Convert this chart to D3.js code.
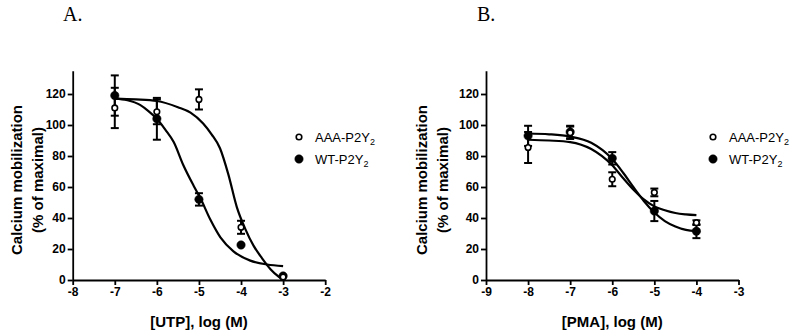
<!DOCTYPE html>
<html>
<head>
<meta charset="utf-8">
<script src="https://cdn.jsdelivr.net/npm/d3@7"></script>
<style>
  body { margin: 0; background: #fff; }
  svg { display: block; font-family: "Liberation Sans", Arial, sans-serif; }
</style>
</head>
<body>
<svg width="800" height="335"></svg>
<script>
// DATA

// panel A : UTP
const doseA = [-7, -6, -5, -4, -3];
const aaaA = [111, 108.5, 116.5, 34, 2];
const aaaAErr = [13, 8, 6.5, 4.2, 0];
const wtA = [119, 104, 52, 22.6, 2.6];
const wtAErr = [13, 13.5, 4, 0, 0];
// fitted curves [logdose, response]
const aaaACurve = [[-7,117],[-6.5,116.5],[-6,115.5],[-5.5,111.5],[-5.2,108],[-4.9,101],[-4.7,94],
                   [-4.5,85],[-4.3,68],[-4.1,47],[-3.9,33],[-3.7,22],[-3.5,14],[-3.3,7],[-3.1,2],[-3,0]];
const wtACurve = [[-7,117],[-6.7,116],[-6.4,113],[-6.2,109],[-6,104],[-5.8,97],[-5.6,89],[-5.37,74],
                  [-5.13,61],[-4.97,53],[-4.73,39],[-4.49,27.5],[-4.18,18.5],[-3.78,12.5],[-3.38,10],[-3,9]];
const ticksXA = [-8, -7, -6, -5, -4, -3, -2];

// panel B : PMA
const doseB = [-8, -7, -6, -5, -4];
const aaaB = [85.5, 95, 65, 56.5, 37];
const aaaBErr = [10, 4, 4.5, 2.5, 1.5];
const wtB = [93, 95.5, 78.5, 44.5, 31.5];
const wtBErr = [6.5, 4, 4, 6.5, 4.5];
const aaaBCurve = [[-8,90.5],[-7.5,90],[-7,89],[-6.5,84.5],[-6,74],[-5.75,66],[-5.5,58.4],[-5.25,52],
                   [-5,47.5],[-4.75,45],[-4.5,43.2],[-4.25,42.3],[-4,41.8]];
const wtBCurve = [[-8,94.5],[-7.5,94],[-7,92.5],[-6.5,88.5],[-6,78],[-5.75,69.5],[-5.5,60],[-5.25,51],
                  [-5,43.5],[-4.75,38],[-4.5,34.5],[-4.25,32.3],[-4,31.5]];
const ticksXB = [-9, -8, -7, -6, -5, -4, -3];

const ticksY = [0, 20, 40, 60, 80, 100, 120];
const yTop = 135;
const legendNames = ['AAA-P2Y', 'WT-P2Y'];

const svg = d3.select('svg');
const sans = '"Liberation Sans", Arial, sans-serif';

const drawPanel = cfg => {
    const g = svg.append('g');

    const xScale = d3.scaleLinear()
                    .domain(d3.extent(cfg.ticksX))
                    .range([cfg.x0, cfg.x0 + 252.5]);
    const yScale = d3.scaleLinear()
                    .domain([0, yTop])
                    .range([280, 280 - yTop * 1.55]);

    // axes
    const gX = g.append('g')
                .attr('transform', `translate(0,${yScale(0)})`)
                .call(d3.axisBottom(xScale).tickValues(cfg.ticksX).tickFormat(d => String(d))
                        .tickSizeInner(5).tickSizeOuter(0).tickPadding(2));
    const gY = g.append('g')
                .attr('transform', `translate(${cfg.x0},0)`)
                .call(d3.axisLeft(yScale).tickValues(ticksY).tickSizeInner(5).tickSizeOuter(0).tickPadding(2));

    [gX, gY].forEach(ax => {
        ax.select('.domain').attr('stroke', '#000').attr('stroke-width', 1.8);
        ax.selectAll('.tick line').attr('stroke', '#000').attr('stroke-width', 1.8);
        ax.selectAll('.tick text')
          .style('font-family', sans)
          .style('font-size', '12px').style('font-weight', 'bold').attr('fill', '#000');
    });

    // curves
    const line = d3.line()
                   .x(d => xScale(d[0]))
                   .y(d => yScale(d[1]))
                   .curve(d3.curveMonotoneX);
    [cfg.aaaCurve, cfg.wtCurve].forEach(c => {
        g.append('path')
         .attr('d', line(c))
         .attr('fill', 'none')
         .attr('stroke', '#000')
         .attr('stroke-width', 2.2)
         .attr('stroke-linejoin', 'round');
    });

    // error bars + markers
    const series = [
        { vals: cfg.wt, err: cfg.wtErr, open: false },
        { vals: cfg.aaa, err: cfg.aaaErr, open: true }
    ];
    series.forEach(s => {
        const pts = cfg.dose.map((d, i) => ({ x: d, y: s.vals[i], e: s.err[i] }))
                            .filter(p => p.e > 0);
        const eb = g.append('g').selectAll('g').data(pts).enter().append('g');
        eb.append('line')
          .attr('x1', p => xScale(p.x)).attr('x2', p => xScale(p.x))
          .attr('y1', p => yScale(p.y - p.e)).attr('y2', p => yScale(p.y + p.e));
        eb.append('line')
          .attr('x1', p => xScale(p.x) - 4).attr('x2', p => xScale(p.x) + 4)
          .attr('y1', p => yScale(p.y + p.e)).attr('y2', p => yScale(p.y + p.e));
        eb.append('line')
          .attr('x1', p => xScale(p.x) - 4).attr('x2', p => xScale(p.x) + 4)
          .attr('y1', p => yScale(p.y - p.e)).attr('y2', p => yScale(p.y - p.e));
        eb.selectAll('line').attr('stroke', '#000').attr('stroke-width', 2);
    });
    series.forEach(s => {
        g.append('g').selectAll('circle')
         .data(cfg.dose.map((d, i) => ({ x: d, y: s.vals[i] })))
         .enter().append('circle')
         .attr('cx', p => xScale(p.x))
         .attr('cy', p => yScale(p.y))
         .attr('r', s.open ? 2.8 : 4.2)
         .attr('fill', s.open ? '#fff' : '#000')
         .attr('stroke', '#000')
         .attr('stroke-width', s.open ? 1.6 : 0.5);
    });

    // titles
    g.append('text')
     .attr('x', (xScale.range()[0] + xScale.range()[1]) / 2)
     .attr('y', 327)
     .attr('text-anchor', 'middle')
     .style('font-size', '15px').style('font-weight', 'bold')
     .text(cfg.xTitle);

    const yt = g.append('text')
                .attr('transform', `translate(${cfg.yTitleX},180) rotate(-90)`)
                .attr('text-anchor', 'middle')
                .style('font-size', '15px').style('font-weight', 'bold');
    yt.append('tspan').attr('x', 0).attr('y', 0).text('Calcium mobilization');
    yt.append('tspan').attr('x', 0).attr('y', 21).text('(% of maximal)');

    g.append('text')
     .attr('x', cfg.labelX).attr('y', 21)
     .style('font-family', '"Liberation Serif", "Times New Roman", serif')
     .style('font-size', '20px')
     .text(cfg.label);

    // legend
    const lg = g.append('g').attr('transform', `translate(${cfg.legendX},137)`);
    legendNames.forEach((name, i) => {
        const row = lg.append('g').attr('transform', `translate(0,${i * 22})`);
        row.append('circle')
           .attr('r', i === 0 ? 2.8 : 4.2)
           .attr('fill', i === 0 ? '#fff' : '#000')
           .attr('stroke', '#000')
           .attr('stroke-width', i === 0 ? 1.6 : 0.5);
        const t = row.append('text').attr('x', 16).attr('y', 5).style('font-size', '13px');
        t.append('tspan').text(name);
        t.append('tspan').style('font-size', '9px').attr('dy', 3).text('2');
    });
};

drawPanel({
    x0: 72.7, ticksX: ticksXA, dose: doseA,
    aaa: aaaA, aaaErr: aaaAErr, wt: wtA, wtErr: wtAErr,
    aaaCurve: aaaACurve, wtCurve: wtACurve,
    xTitle: '[UTP], log (M)', yTitleX: 22, label: 'A.', labelX: 63, legendX: 299
});

drawPanel({
    x0: 486, ticksX: ticksXB, dose: doseB,
    aaa: aaaB, aaaErr: aaaBErr, wt: wtB, wtErr: wtBErr,
    aaaCurve: aaaBCurve, wtCurve: wtBCurve,
    xTitle: '[PMA], log (M)', yTitleX: 427, label: 'B.', labelX: 477, legendX: 713
});
</script>
</body>
</html>
